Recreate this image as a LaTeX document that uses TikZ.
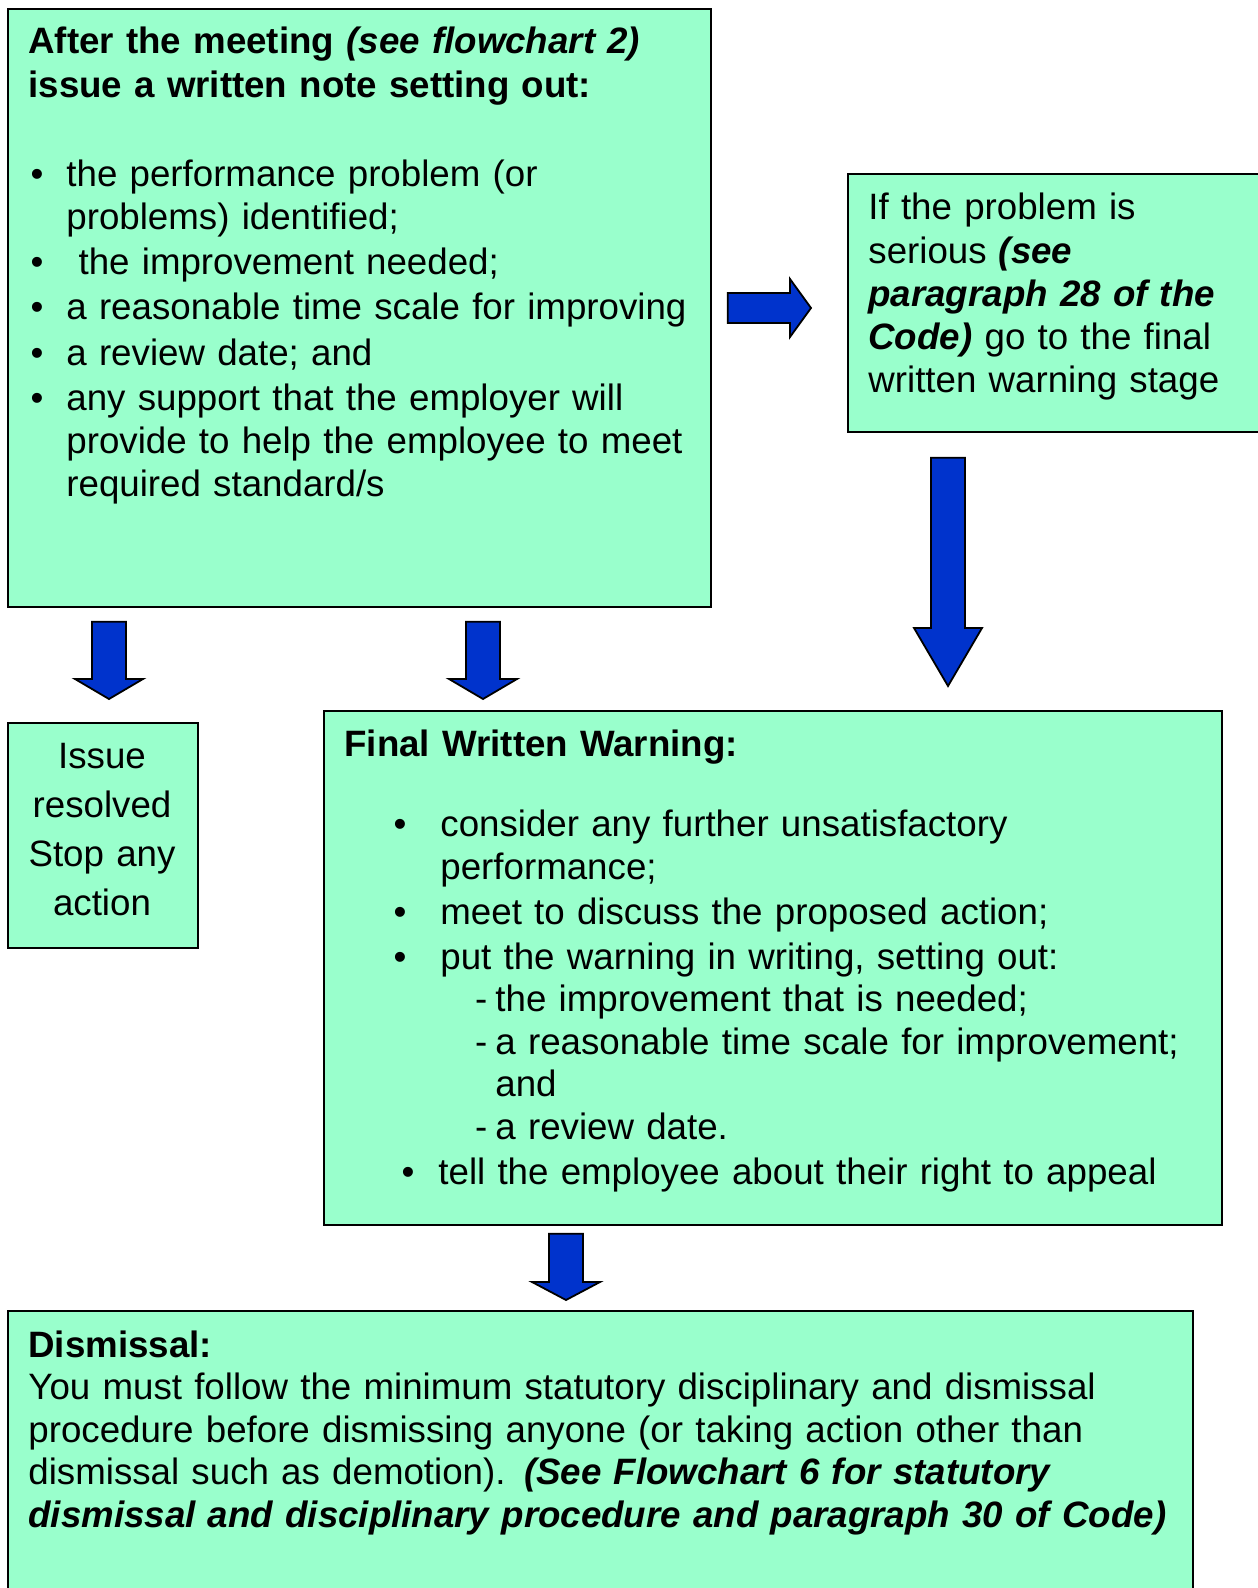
\documentclass[tikz,border=0pt]{standalone}
\usepackage{fontspec}
\setmainfont{Liberation Sans}
\usepackage{enumitem}
\usetikzlibrary{calc}
\definecolor{notegreen}{HTML}{99FFCC}
\definecolor{arrowblue}{HTML}{0033CC}
\newcommand{\boxfont}{\fontsize{18.35pt}{21.6pt}\selectfont}
\newcommand{\bfit}[1]{\textbf{\textit{#1}}}
% block arrows: (start), (tip), head length
\newcommand{\blockdown}[3]{%
	\draw[blockarrow] ($(#1)+(-17,0)$) -- ($(#1)+(17,0)$) -- ($(#2)+(17,-#3)$)
	-- ($(#2)+(34,-#3)$) -- (#2) -- ($(#2)+(-34,-#3)$) -- ($(#2)+(-17,-#3)$) -- cycle;}
\newcommand{\blockright}[3]{%
	\draw[blockarrow] ($(#1)+(0,-15)$) -- ($(#2)+(-#3,-15)$) -- ($(#2)+(-#3,-29)$)
	-- (#2) -- ($(#2)+(-#3,29)$) -- ($(#2)+(-#3,15)$) -- ($(#1)+(0,15)$) -- cycle;}

\begin{document}
\begin{tikzpicture}[x=0.5pt, y=-0.5pt, line join=miter,
	greenbox/.style={draw=black, line width=0.9pt, fill=notegreen, inner sep=0pt, anchor=north west},
	boxtext/.style={inner sep=0pt, anchor=north west, align=left, font=\boxfont},
	blockarrow/.style={draw=black, line width=0.9pt, fill=arrowblue}]

\fill[white] (0,0) rectangle (1257,1588);
\useasboundingbox (0,0) rectangle (1257,1588);

% ==== Top left: written note ====
\node[greenbox, minimum width=351.5pt, minimum height=299pt] (note) at (7,8) {};
\node[boxtext, text width=340pt] (notetext) at (28,27) {%
	\textbf{After the meeting \textit{(see flowchart 2)}}\\
	\textbf{issue a written note setting out:}
	\begin{itemize}[label=\textbullet, leftmargin=19pt, labelsep=11.5pt, topsep=23pt,
		itemsep=1pt, parsep=0pt, partopsep=0pt]
		\item the performance problem (or\newline problems) identified;
		\item \ the improvement needed;
		\item a reasonable time scale for improving
		\item a review date; and
		\item any support that the employer will\newline provide to help the employee to meet\newline required standard/s
	\end{itemize}};

% ==== Top right: serious problem ====
\node[greenbox, minimum width=210pt, minimum height=129pt] (serious) at (847,173) {};
\node[boxtext, text width=190pt] (serioustext) at (868,193) {%
	If the problem is\\
	serious \bfit{(see}\\
	\bfit{paragraph 28 of the}\\
	\bfit{Code)} go to the final\\
	written warning stage};

% ==== Middle: issue resolved / final written warning ====
\node[greenbox, minimum width=95pt, minimum height=112.5pt] (issue) at (7,722) {};
\node[boxtext, anchor=north, align=center, text width=90pt,
	font={\fontsize{18.35pt}{24.5pt}\selectfont}] (issuetext) at (102,743) {%
	Issue\\ resolved\\ Stop any\\ action};

\node[greenbox, minimum width=449pt, minimum height=257pt] (warning) at (323,710) {};
\node[boxtext, text width=430pt, font={\fontsize{18.35pt}{21.3pt}\selectfont}] (warningtext) at (344,730) {%
	\textbf{Final Written Warning:}
	\begin{itemize}[label=\textbullet, leftmargin=48pt, labelsep=17pt, topsep=18.5pt,
		itemsep=1.2pt, parsep=0pt, partopsep=0pt]
		\item consider any further unsatisfactory\newline performance;
		\item meet to discuss the proposed action;
		\item put the warning in writing, setting out:
		\begin{itemize}[label=-, leftmargin=27.5pt, labelsep=4pt, topsep=0pt,
			itemsep=0pt, parsep=0pt, partopsep=0pt]
			\item the improvement that is needed;
			\item a reasonable time scale for improvement;\newline and
			\item a review date.
		\end{itemize}
		\item[\textbullet\hspace{-4pt}]\hspace{-1pt}tell the employee about their right to appeal
	\end{itemize}};

% ==== Bottom: dismissal ====
\node[greenbox, minimum width=592.5pt, minimum height=150pt] (dismissal) at (7,1310) {};
\node[boxtext, text width=585pt, font={\fontsize{18.35pt}{21.3pt}\selectfont}] (dismissaltext) at (28,1330) {%
	\textbf{Dismissal:}\\
	You must follow the minimum statutory disciplinary and dismissal\\
	procedure before dismissing anyone (or taking action other than\\
	dismissal such as demotion). \bfit{(See Flowchart 6 for statutory}\\
	\bfit{dismissal and disciplinary procedure and paragraph 30 of Code)}};

% ==== Block arrows ====
\coordinate (downA) at ($(note.south west)+(102,14)$);
\coordinate (downAtip) at ($(issue.north west)+(102,-23)$);
\coordinate (downB) at ($(note.south west)+(476,14)$);
\coordinate (downBtip) at ($(warning.north west)+(160,-11)$);
\coordinate (downC) at ($(serious.south west)+(101,25)$);
\coordinate (downCtip) at ($(warning.north west)+(625,-24)$);
\coordinate (downD) at ($(warning.south west)+(243,8)$);
\coordinate (downDtip) at ($(dismissal.north west)+(559,-10)$);
\coordinate (rightA) at ($(note.north east)+(16,300)$);
\coordinate (rightAtip) at ($(serious.north west)+(-36,135)$);

\blockdown{downA}{downAtip}{20}
\blockdown{downB}{downBtip}{20}
\blockdown{downC}{downCtip}{58}
\blockdown{downD}{downDtip}{18}
\blockright{rightA}{rightAtip}{21}

\end{tikzpicture}
\end{document}
